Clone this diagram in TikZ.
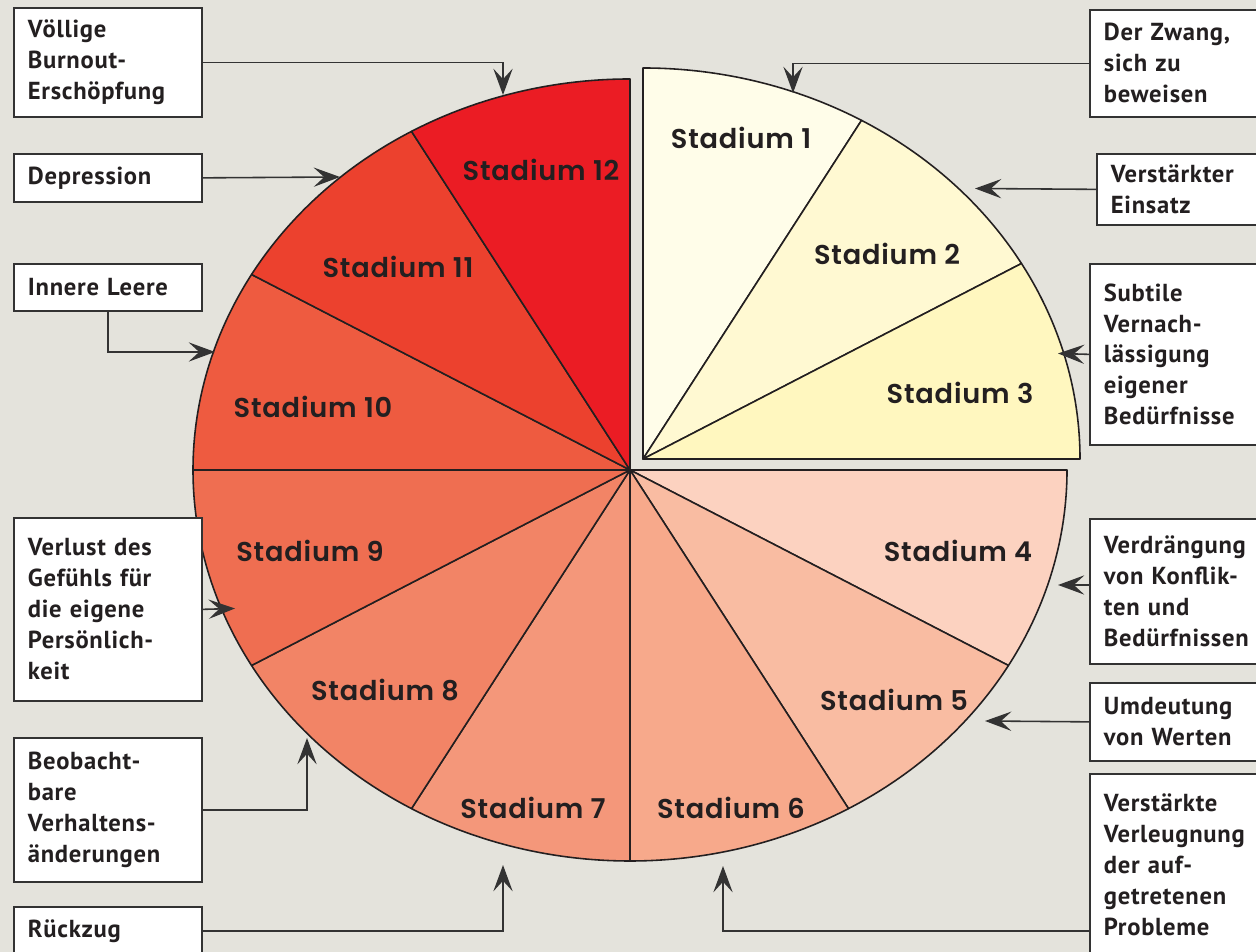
\documentclass[tikz,border=0pt]{standalone}
\usepackage{fontspec}
\setmainfont{PT Sans}
\newfontfamily\labelfont[LetterSpace=3]{PT Sans}
\newfontfamily\stadfont[LetterSpace=3, BoldFont={Poppins SemiBold}]{Poppins}
\usetikzlibrary{arrows.meta,positioning,calc}

\definecolor{bg}{HTML}{E4E3DC}
\definecolor{ink}{HTML}{231F20}
\definecolor{linegray}{HTML}{333333}
\definecolor{st1}{HTML}{FFFDE9}
\definecolor{st2}{HTML}{FFF9D2}
\definecolor{st3}{HTML}{FFF7BF}
\definecolor{st4}{HTML}{FCD2C0}
\definecolor{st5}{HTML}{F9BCA2}
\definecolor{st6}{HTML}{F7A98B}
\definecolor{st7}{HTML}{F4977A}
\definecolor{st8}{HTML}{F28466}
\definecolor{st9}{HTML}{EF6E51}
\definecolor{st10}{HTML}{EE5B40}
\definecolor{st11}{HTML}{EC412E}
\definecolor{st12}{HTML}{EB1C24}

\begin{document}
\begin{tikzpicture}[
    x=0.02cm, y=0.02cm,
    box/.style={rectangle, draw=linegray, fill=white, line width=1pt, anchor=north west, inner xsep=0.28cm, align=left, text=ink, font=\labelfont\bfseries\fontsize{14}{17.6}\selectfont},
    leftbox/.style={box, minimum width=3.76cm, text width=3.2cm},
    rightbox/.style={box, minimum width=4cm, text width=3.48cm},
    slice/.style={draw=ink, line width=0.9pt, line join=round},
    stage/.style={text=ink, font=\stadfont\bfseries\fontsize{15.5}{19}\selectfont},
    arrow/.style={draw=linegray, line width=0.9pt, -{Stealth[length=15pt, width=11pt, inset=6pt]}}
]

\useasboundingbox (0,0) rectangle (1256,952);
\clip (0,0) rectangle (1256,952);
\fill[bg] (0,0) rectangle (1256,952);

% the twelve stages, the first three pulled out
\foreach \i/\col/\lx/\ly in {1/st1/741/814, 2/st2/887/698, 3/st3/960/559, 4/st4/958/401,
    5/st5/894/252, 6/st6/731/144, 7/st7/533/144, 8/st8/385/262,
    9/st9/310/401, 10/st10/313/545, 11/st11/398/685, 12/st12/541/782}{
  \ifnum\i<4 \def\ctr{643,493}\else\def\ctr{630,482}\fi
  \pgfmathsetmacro\angA{90-30*(\i-1)}
  \pgfmathsetmacro\angB{90-30*\i}
  \filldraw[slice, fill=\col] (\ctr) -- ++(\angA:437 and 391)
    arc[start angle=\angA, end angle=\angB, x radius=437, y radius=391] -- cycle;
  \node[stage] (s\i) at (\lx,\ly) {Stadium \i};
}

% left column
\node[leftbox, minimum height=2.18cm] (burnout) at (13,945) {Völlige\\Burnout-\\Erschöpfung};
\node[leftbox, minimum height=0.96cm] (depression) at (13,799) {Depression};
\node[leftbox, minimum height=0.94cm] (leere) at (13,689) {Innere Leere};
\node[leftbox, minimum height=3.66cm] (verlust) at (13,435) {Verlust des\\Gefühls für\\die eigene\\Persönlich-\\keit};
\node[leftbox, minimum height=2.88cm] (verhalten) at (13,215) {Beobacht-\\bare\\Verhaltens-\\änderungen};
\node[leftbox, minimum height=0.96cm] (rueckzug) at (13,46) {Rückzug};

% right column
\node[rightbox, minimum height=2.14cm] (zwang) at (1089,943) {Der Zwang,\\sich zu\\beweisen};
\node[rightbox, minimum height=1.42cm] (einsatz) at (1096,799) {Verstärkter\\Einsatz};
\node[rightbox, minimum height=3.62cm] (vernachl) at (1089,689) {Subtile\\Vernach-\\lässigung\\eigener\\Bedürfnisse};
\node[rightbox, minimum height=2.9cm] (verdraengung) at (1089,434) {Verdrängung\\von Konflik-\\ten und\\Bedürfnissen};
\node[rightbox, minimum height=1.56cm] (umdeutung) at (1089,270) {Umdeutung\\von Werten};
\node[rightbox, minimum height=3.64cm] (verleugnung) at (1089,179) {Verstärkte\\Verleugnung\\der auf-\\getretenen\\Probleme};

% arrow tips at the pie
\coordinate (t1) at (793,859);
\coordinate (t2) at (975,763.5);
\coordinate (t3) at (1058,598.5);
\coordinate (t4) at (1058,367);
\coordinate (t5) at (985,231);
\coordinate (t6) at (723,86);
\coordinate (t7) at (503,87);
\coordinate (t8) at (307,214);
\coordinate (t9) at (235,343.5);
\coordinate (t10) at (215,600);
\coordinate (t11) at (340,775);
\coordinate (t12) at (503,857);

\draw[arrow] (zwang.west) -| (t1);
\draw[arrow] (einsatz.west) -- (t2);
\draw[arrow] (vernachl.west) -- (t3);
\draw[arrow] (verdraengung.west |- t4) -- (t4);
\draw[arrow] (umdeutung.west) -- (t5);
\draw[arrow] (verleugnung.west |- rueckzug.east) -| (t6);
\draw[arrow] (rueckzug.east) -| (t7);
\draw[arrow] (verhalten.east) -| (t8);
\draw[arrow] (verlust.east) -- (t9);
\draw[arrow] (leere.south) |- (t10);
\draw[arrow] (depression.east) -- (t11);
\draw[arrow] (burnout.east) -| (t12);

\end{tikzpicture}
\end{document}
